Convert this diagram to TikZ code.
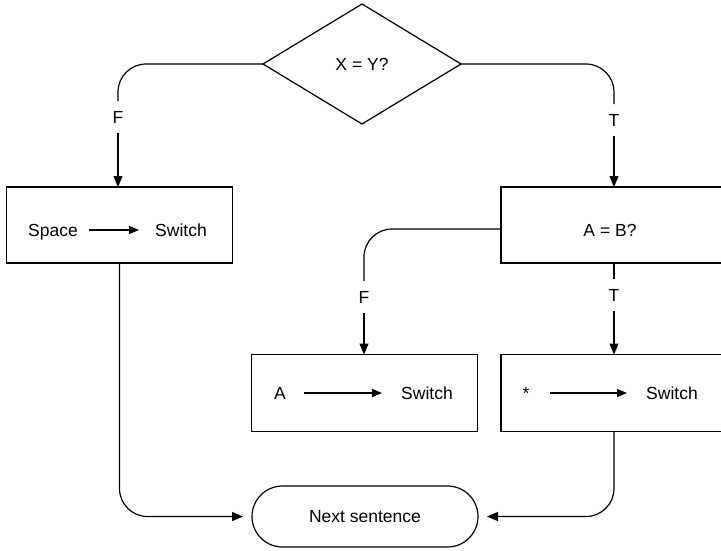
\documentclass[tikz,border=0pt]{standalone}
\usepackage{fontspec}
\setmainfont{Liberation Sans}
\usetikzlibrary{shapes.geometric,arrows.meta}
\begin{document}
\begin{tikzpicture}[x=1pt,y=-1pt,
  every node/.style={font=\fontsize{17.5}{20}\selectfont},
  line/.style={line width=1.2pt},
  arr/.style={line, -{Triangle[length=11pt,width=9pt]}},
  smallarr/.style={line, -{Triangle[length=10pt,width=8pt]}},
  box/.style={draw, line width=1.2pt, minimum width=226pt, minimum height=76pt, inner sep=0pt, outer sep=0pt},
  lbl/.style={inner sep=0pt, outer sep=0pt, minimum height=32pt, text height=12pt, text depth=0pt},
  txt/.style={anchor=base, inner sep=0pt}
]
\clip (0,0) rectangle (721,550);

% decision diamond
\node[draw, line width=1.2pt, shape=diamond, minimum width=198pt, minimum height=120pt,
      inner sep=0pt, outer sep=0pt] (d) at (362,64) {X = Y?};

% boxes
\node[box] (sp) at (119.5,225) {};
\node[box] (ab) at (614,225) {};
\node[box, minimum height=77pt] (ba) at (364.5,393) {};
\node[box, minimum height=77pt] (sw) at (614,393) {};
\node[draw, line width=1.2pt, rounded corners=30.5pt, minimum width=226pt, minimum height=61pt,
      inner sep=0pt, outer sep=0pt] (ns) at (365,516.5) {Next sentence};

% box texts
\node[txt] (spT) at (53,236) {Space};
\node[txt] (swA) at (181,236) {Switch};
\coordinate (a1s) at (89,230); \coordinate (a1e) at (139,230);
\draw[smallarr] (a1s) -- (a1e);

\node[txt] (abT) at (610,236) {A = B?};

\node[txt] (aT) at (280,399.5) {A};
\node[txt] (swB) at (427,399.5) {Switch};
\coordinate (a2s) at (304,393); \coordinate (a2e) at (382,393);
\draw[smallarr] (a2s) -- (a2e);

\node[txt] (stT) at (526,399.5) {*};
\node[txt] (swC) at (672,399.5) {Switch};
\coordinate (a3s) at (550,393); \coordinate (a3e) at (627,393);
\draw[smallarr] (a3s) -- (a3e);

% branch labels
\node[lbl] (f1) at (118,117) {F};
\node[lbl] (t1) at (614,120) {T};
\node[lbl] (f2) at (364,297) {F};
\node[lbl] (t2) at (614,295) {T};

% connectors
\draw[line, rounded corners=28pt] (d.west) -| (f1.north);
\draw[arr] (f1.south) -- (f1.south |- sp.north);
\draw[line, rounded corners=28pt] (d.east) -| (t1.north);
\draw[arr] (t1.south) -- (ab.north);
\draw[line, rounded corners=28pt] ([yshift=-4pt]ab.west) -| (f2.north);
\draw[arr] (f2.south) -- (f2.south |- ba.north);
\draw[line] (ab.south) -- (t2.north);
\draw[arr] (t2.south) -- (t2.south |- sw.north);
\draw[arr, rounded corners=28pt, shorten >=9pt] (sp.south) |- (ns.west);
\draw[arr, rounded corners=28pt, shorten >=9pt] (sw.south) |- (ns.east);
\end{tikzpicture}
\end{document}
